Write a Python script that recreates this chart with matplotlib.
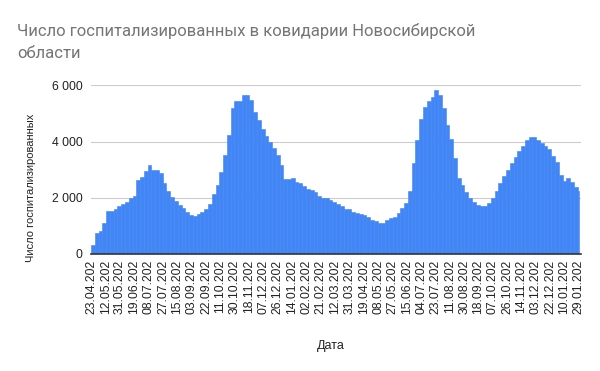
import numpy as np
import matplotlib
matplotlib.use('Agg')
import matplotlib.pyplot as plt
from matplotlib.ticker import FuncFormatter

# hospitalised patients, one value per 5 days starting 23.04.2020
step_days = 5
patients = [320, 760, 830, 1100, 1540, 1530, 1590, 1720, 1780, 1850,
            1980, 2080, 2630, 2750, 2970, 3150, 3000, 2990, 2870, 2520,
            2240, 2020, 1890, 1755, 1620, 1490, 1370, 1350, 1420, 1490,
            1600, 1795, 2130, 2470, 2920, 3520, 4250, 5200, 5430, 5450,
            5640, 5640, 5490, 5060, 4750, 4450, 4190, 3990, 3770, 3510,
            3150, 2650, 2670, 2710, 2575, 2510, 2430, 2315, 2265, 2195,
            2070, 1985, 1980, 1935, 1845, 1775, 1690, 1585, 1585, 1510,
            1470, 1435, 1370, 1300, 1200, 1160, 1120, 1090, 1215, 1275,
            1330, 1450, 1620, 1820, 2240, 3250, 4050, 4790, 5230, 5430,
            5600, 5830, 5650, 5200, 4600, 4080, 3400, 2700, 2460, 2190,
            1980, 1850, 1730, 1690, 1710, 1820, 2000, 2250, 2520, 2790,
            3000, 3250, 3460, 3660, 3850, 4050, 4150, 4150, 4050, 3940,
            3840, 3730, 3490, 3285, 2800, 2600, 2690, 2570, 2370, 2250]

tick_days = list(range(0, 647, 19))
tick_labels = ['23.04.202', '12.05.202', '31.05.202', '19.06.202', '08.07.202',
               '27.07.202', '15.08.202', '03.09.202', '22.09.202', '11.10.202',
               '30.10.202', '18.11.202', '07.12.202', '26.12.202', '14.01.202',
               '02.02.202', '21.02.202', '12.03.202', '31.03.202', '19.04.202',
               '08.05.202', '27.05.202', '15.06.202', '04.07.202', '23.07.202',
               '11.08.202', '30.08.202', '18.09.202', '07.10.202', '26.10.202',
               '14.11.202', '03.12.202', '22.12.202', '10.01.202', '29.01.202']
last_day = 646

plt.rcParams['font.family'] = ['Liberation Sans', 'DejaVu Sans']

fig = plt.figure(figsize=(6, 3.71), dpi=100)
ax = fig.add_axes([0.1517, 0.3154, 0.8167, 0.4546])

starts = np.arange(len(patients)) * step_days - 0.5
widths = np.minimum(step_days, last_day + 0.5 - starts)
ax.bar(starts, patients, width=widths, align='edge', color='#4285f4',
       edgecolor='#4285f4', linewidth=0.4)

ax.set_xlim(-0.5, 649)
ax.set_ylim(0, 6000)
ax.set_yticks([0, 2000, 4000, 6000])
ax.yaxis.set_major_formatter(FuncFormatter(lambda v, p: '{:,}'.format(int(v)).replace(',', ' ')))
ax.set_xticks(tick_days)
ax.set_xticklabels(tick_labels, rotation=90, fontsize=8.8, color='#222222')
ax.tick_params(axis='y', labelsize=8.8, colors='#222222', length=0, pad=6)
ax.tick_params(axis='x', length=0, pad=4)
ax.grid(axis='y', color='#cccccc', linewidth=0.8)
ax.set_axisbelow(True)
for s in ['top', 'right', 'left']:
    ax.spines[s].set_visible(False)
ax.spines['bottom'].set_color('#333333')
ax.spines['bottom'].set_linewidth(1.2)
ax.spines['bottom'].set_zorder(5)

ax.set_ylabel('Число госпитализированных', fontsize=8, color='#222222')
ax.yaxis.set_label_coords(-0.112, 0.39)
ax.set_xlabel('Дата', fontsize=9, color='#222222')
ax.xaxis.set_label_coords(0.49, -0.51)

fig.text(17 / 600, 1 - 23 / 371, 'Число госпитализированных в ковидарии Новосибирской\nобласти',
         fontsize=12, color='#757575', family=['Roboto', 'DejaVu Sans'],
         va='top', ha='left', linespacing=1.55)

fig.savefig('out.png', dpi=100)
